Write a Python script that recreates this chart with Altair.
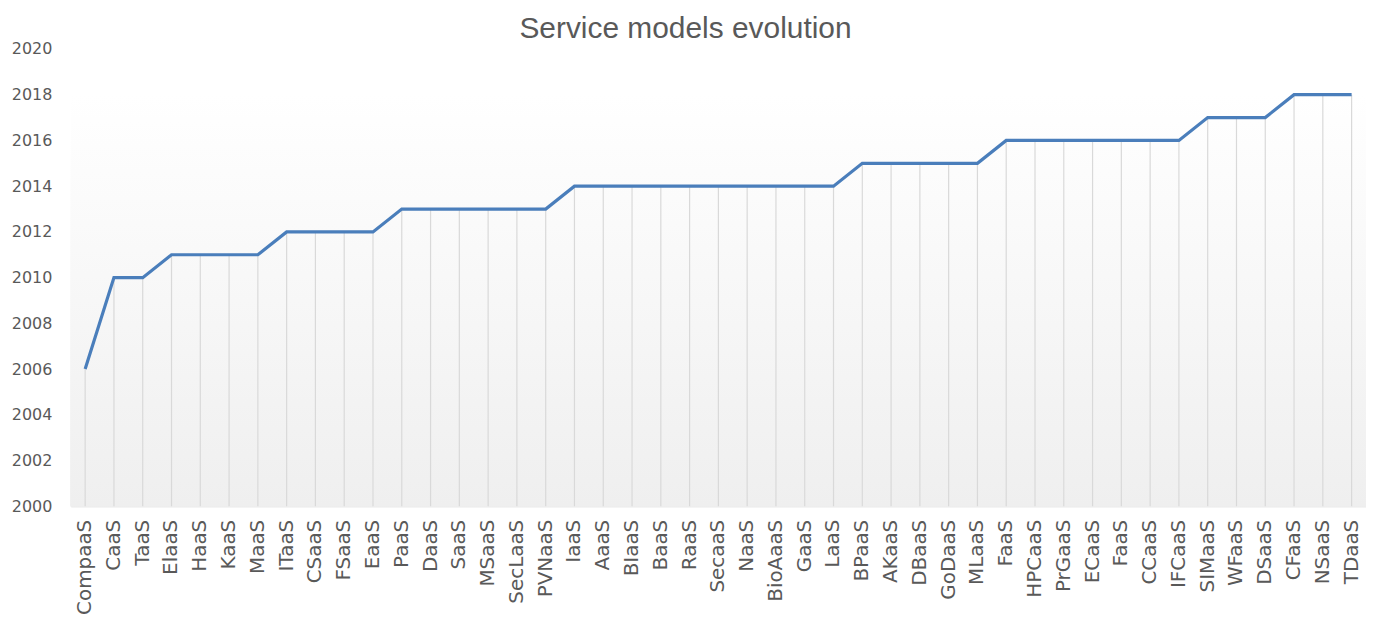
import altair as alt
import pandas as pd
import json

title_text = "Service models evolution"
categories = ["CompaaS", "CaaS", "TaaS", "ElaaS", "HaaS", "KaaS", "MaaS", "ITaaS", "CSaaS",
              "FSaaS", "EaaS", "PaaS", "DaaS", "SaaS", "MSaaS", "SecLaaS", "PVNaaS", "IaaS",
              "AaaS", "BIaaS", "BaaS", "RaaS", "SecaaS", "NaaS", "BioAaaS", "GaaS", "LaaS",
              "BPaaS", "AKaaS", "DBaaS", "GoDaaS", "MLaaS", "FaaS", "HPCaaS", "PrGaaS",
              "ECaaS", "FaaS", "CCaaS", "IFCaaS", "SIMaaS", "WFaaS", "DSaaS", "CFaaS",
              "NSaaS", "TDaaS"]
years = [2006, 2010, 2010, 2011, 2011, 2011, 2011, 2012, 2012,
         2012, 2012, 2013, 2013, 2013, 2013, 2013, 2013, 2014,
         2014, 2014, 2014, 2014, 2014, 2014, 2014, 2014, 2014,
         2015, 2015, 2015, 2015, 2015, 2016, 2016, 2016,
         2016, 2016, 2016, 2016, 2017, 2017, 2017, 2018,
         2018, 2018]
y_ticks = list(range(2000, 2021, 2))

df = pd.DataFrame({"idx": list(range(len(categories))), "name": categories, "year": years})

W, H = 1300, 459
TFONT = "Liberation Sans"
LFONT = "DejaVu Sans"
TXT = "#595959"

label_expr = json.dumps(categories) + "[datum.value]"

x_enc = alt.X("idx:O", title=None,
              axis=alt.Axis(labelExpr=label_expr, labelAngle=270, ticks=False,
                            domainColor="#d9d9d9", labelPadding=13, labelFontSize=20,
                            labelFont=LFONT, labelColor=TXT, grid=False))
y_scale = alt.Scale(domain=[2000, 2020], zero=False, nice=False)
y_enc = alt.Y("year:Q", title=None, scale=y_scale,
              axis=alt.Axis(values=y_ticks, format="d", ticks=False, domain=False, grid=False,
                            labelPadding=19, labelFontSize=16, labelFont=LFONT, labelColor=TXT))

bg = alt.Chart(df).mark_rect(
    fill=alt.Gradient(gradient="linear",
                      stops=[alt.GradientStop(color="#ffffff", offset=0),
                             alt.GradientStop(color="#ffffff", offset=0.1),
                             alt.GradientStop(color="#efefef", offset=1)],
                      x1=0, x2=0, y1=0, y2=1)
).encode(x=alt.value(0), x2=alt.value(W), y=alt.value(0), y2=alt.value(H))

drops = alt.Chart(df).mark_rule(color="#d9d9d9", strokeWidth=1.2).encode(
    x=x_enc, y=y_enc, y2=alt.datum(2000))

line = alt.Chart(df).mark_line(color="#4a7ebb", strokeWidth=3.2).encode(x=x_enc, y=y_enc)

title = alt.Chart(pd.DataFrame({"t": [title_text]})).mark_text(
    font=TFONT, fontSize=30, color=TXT, align="center", baseline="alphabetic"
).encode(text="t:N", x=alt.value(617), y=alt.value(-11))

chart = alt.layer(bg, drops, line, title).properties(
    width=W, height=H,
    autosize=alt.AutoSizeParams(type="none"),
    padding={"left": 63, "top": 40, "right": 0, "bottom": 110},
).configure_view(stroke=None)

chart.save("out.html", embed_options={"renderer": "svg", "actions": False})
